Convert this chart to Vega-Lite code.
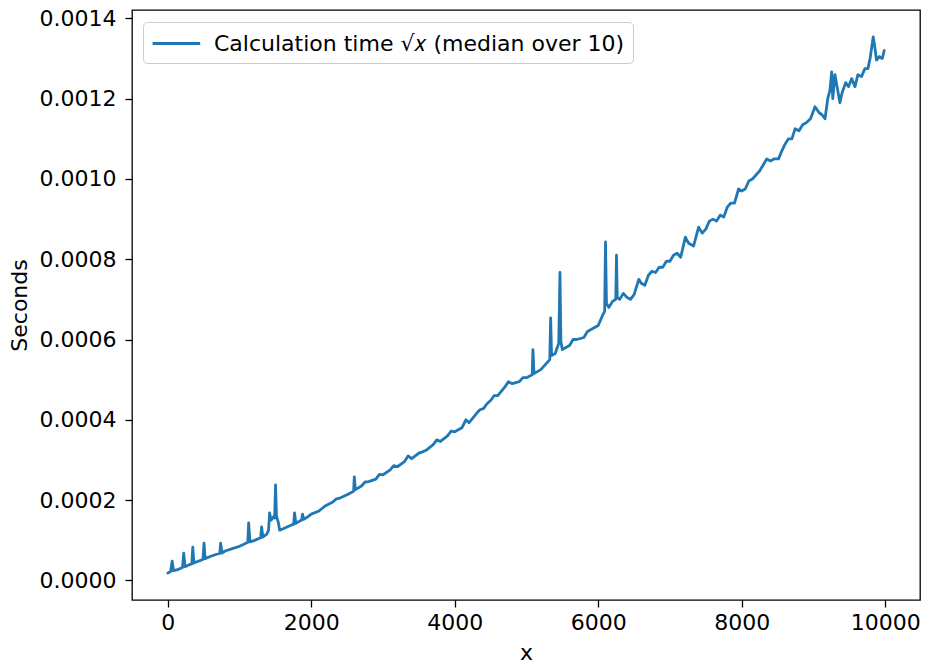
{
  "$schema": "https://vega.github.io/schema/vega-lite/v6.json",
  "width": 788,
  "height": 590,
  "autosize": {"type": "none"},
  "padding": {"left": 132, "top": 10, "right": 5, "bottom": 69},
  "background": "white",
  "config": {
    "view": {"stroke": "#000000", "strokeWidth": 1.3},
    "font": "DejaVu Sans",
    "axis": {
      "domain": false,
      "grid": false,
      "tickColor": "#000000",
      "tickSize": 7,
      "tickWidth": 1.3,
      "labelFont": "DejaVu Sans",
      "labelFontSize": 22,
      "labelColor": "#000000",
      "labelPadding": 6,
      "titleFont": "DejaVu Sans",
      "titleFontSize": 22,
      "titleFontWeight": "normal",
      "titleColor": "#000000"
    }
  },
  "data": {
    "values": [
      {"x": 0, "t": 0.0000180},
      {"x": 40, "t": 0.0000220},
      {"x": 60, "t": 0.0000480},
      {"x": 80, "t": 0.0000240},
      {"x": 150, "t": 0.0000275},
      {"x": 205, "t": 0.0000320},
      {"x": 222, "t": 0.0000675},
      {"x": 240, "t": 0.0000340},
      {"x": 300, "t": 0.0000390},
      {"x": 335, "t": 0.0000410},
      {"x": 348, "t": 0.0000825},
      {"x": 365, "t": 0.0000430},
      {"x": 430, "t": 0.0000480},
      {"x": 490, "t": 0.0000520},
      {"x": 505, "t": 0.0000925},
      {"x": 520, "t": 0.0000540},
      {"x": 600, "t": 0.0000600},
      {"x": 680, "t": 0.0000650},
      {"x": 725, "t": 0.0000670},
      {"x": 737, "t": 0.0000925},
      {"x": 755, "t": 0.0000680},
      {"x": 800, "t": 0.0000730},
      {"x": 900, "t": 0.0000790},
      {"x": 1000, "t": 0.0000850},
      {"x": 1060, "t": 0.0000900},
      {"x": 1115, "t": 0.0000950},
      {"x": 1127, "t": 0.0001430},
      {"x": 1145, "t": 0.0000960},
      {"x": 1200, "t": 0.0000990},
      {"x": 1295, "t": 0.0001060},
      {"x": 1308, "t": 0.0001330},
      {"x": 1325, "t": 0.0001080},
      {"x": 1380, "t": 0.0001150},
      {"x": 1405, "t": 0.0001250},
      {"x": 1419, "t": 0.0001680},
      {"x": 1440, "t": 0.0001500},
      {"x": 1470, "t": 0.0001580},
      {"x": 1490, "t": 0.0001550},
      {"x": 1502, "t": 0.0002380},
      {"x": 1515, "t": 0.0001600},
      {"x": 1540, "t": 0.0001450},
      {"x": 1560, "t": 0.0001250},
      {"x": 1600, "t": 0.0001280},
      {"x": 1700, "t": 0.0001360},
      {"x": 1755, "t": 0.0001400},
      {"x": 1767, "t": 0.0001680},
      {"x": 1785, "t": 0.0001420},
      {"x": 1840, "t": 0.0001480},
      {"x": 1865, "t": 0.0001500},
      {"x": 1878, "t": 0.0001650},
      {"x": 1895, "t": 0.0001520},
      {"x": 1950, "t": 0.0001580},
      {"x": 2000, "t": 0.0001650},
      {"x": 2100, "t": 0.0001720},
      {"x": 2150, "t": 0.0001790},
      {"x": 2200, "t": 0.0001860},
      {"x": 2300, "t": 0.0001950},
      {"x": 2350, "t": 0.0002030},
      {"x": 2400, "t": 0.0002050},
      {"x": 2500, "t": 0.0002130},
      {"x": 2590, "t": 0.0002220},
      {"x": 2600, "t": 0.0002580},
      {"x": 2615, "t": 0.0002260},
      {"x": 2700, "t": 0.0002350},
      {"x": 2750, "t": 0.0002450},
      {"x": 2800, "t": 0.0002460},
      {"x": 2900, "t": 0.0002520},
      {"x": 2950, "t": 0.0002640},
      {"x": 3000, "t": 0.0002630},
      {"x": 3100, "t": 0.0002750},
      {"x": 3150, "t": 0.0002860},
      {"x": 3200, "t": 0.0002830},
      {"x": 3300, "t": 0.0002960},
      {"x": 3350, "t": 0.0003100},
      {"x": 3400, "t": 0.0003030},
      {"x": 3500, "t": 0.0003170},
      {"x": 3550, "t": 0.0003200},
      {"x": 3600, "t": 0.0003240},
      {"x": 3700, "t": 0.0003380},
      {"x": 3750, "t": 0.0003500},
      {"x": 3800, "t": 0.0003460},
      {"x": 3900, "t": 0.0003600},
      {"x": 3950, "t": 0.0003720},
      {"x": 4000, "t": 0.0003700},
      {"x": 4100, "t": 0.0003800},
      {"x": 4155, "t": 0.0004000},
      {"x": 4200, "t": 0.0003930},
      {"x": 4300, "t": 0.0004150},
      {"x": 4350, "t": 0.0004250},
      {"x": 4400, "t": 0.0004280},
      {"x": 4450, "t": 0.0004400},
      {"x": 4500, "t": 0.0004480},
      {"x": 4550, "t": 0.0004600},
      {"x": 4600, "t": 0.0004600},
      {"x": 4700, "t": 0.0004820},
      {"x": 4750, "t": 0.0004950},
      {"x": 4800, "t": 0.0004900},
      {"x": 4900, "t": 0.0004950},
      {"x": 4950, "t": 0.0005050},
      {"x": 5000, "t": 0.0005050},
      {"x": 5080, "t": 0.0005120},
      {"x": 5090, "t": 0.0005750},
      {"x": 5105, "t": 0.0005150},
      {"x": 5200, "t": 0.0005250},
      {"x": 5250, "t": 0.0005350},
      {"x": 5300, "t": 0.0005450},
      {"x": 5325, "t": 0.0005500},
      {"x": 5337, "t": 0.0006540},
      {"x": 5350, "t": 0.0005600},
      {"x": 5400, "t": 0.0005650},
      {"x": 5450, "t": 0.0005900},
      {"x": 5467, "t": 0.0007670},
      {"x": 5480, "t": 0.0005950},
      {"x": 5500, "t": 0.0005750},
      {"x": 5550, "t": 0.0005800},
      {"x": 5600, "t": 0.0005850},
      {"x": 5650, "t": 0.0006000},
      {"x": 5700, "t": 0.0006000},
      {"x": 5800, "t": 0.0006050},
      {"x": 5850, "t": 0.0006200},
      {"x": 5900, "t": 0.0006250},
      {"x": 5950, "t": 0.0006300},
      {"x": 6000, "t": 0.0006350},
      {"x": 6060, "t": 0.0006600},
      {"x": 6090, "t": 0.0006700},
      {"x": 6102, "t": 0.0008430},
      {"x": 6115, "t": 0.0006900},
      {"x": 6150, "t": 0.0006800},
      {"x": 6200, "t": 0.0006950},
      {"x": 6245, "t": 0.0007000},
      {"x": 6255, "t": 0.0008100},
      {"x": 6265, "t": 0.0007050},
      {"x": 6300, "t": 0.0007000},
      {"x": 6350, "t": 0.0007150},
      {"x": 6400, "t": 0.0007050},
      {"x": 6450, "t": 0.0007000},
      {"x": 6500, "t": 0.0007120},
      {"x": 6566, "t": 0.0007500},
      {"x": 6600, "t": 0.0007400},
      {"x": 6650, "t": 0.0007350},
      {"x": 6700, "t": 0.0007600},
      {"x": 6750, "t": 0.0007700},
      {"x": 6800, "t": 0.0007670},
      {"x": 6850, "t": 0.0007800},
      {"x": 6900, "t": 0.0007800},
      {"x": 6950, "t": 0.0007950},
      {"x": 7000, "t": 0.0007950},
      {"x": 7050, "t": 0.0008100},
      {"x": 7100, "t": 0.0008150},
      {"x": 7150, "t": 0.0008050},
      {"x": 7215, "t": 0.0008550},
      {"x": 7260, "t": 0.0008400},
      {"x": 7330, "t": 0.0008330},
      {"x": 7400, "t": 0.0008800},
      {"x": 7450, "t": 0.0008650},
      {"x": 7500, "t": 0.0008750},
      {"x": 7550, "t": 0.0008950},
      {"x": 7600, "t": 0.0009000},
      {"x": 7650, "t": 0.0008950},
      {"x": 7700, "t": 0.0009100},
      {"x": 7750, "t": 0.0009050},
      {"x": 7800, "t": 0.0009300},
      {"x": 7850, "t": 0.0009400},
      {"x": 7900, "t": 0.0009400},
      {"x": 7957, "t": 0.0009750},
      {"x": 8000, "t": 0.0009700},
      {"x": 8050, "t": 0.0009750},
      {"x": 8100, "t": 0.0009950},
      {"x": 8150, "t": 0.0010000},
      {"x": 8200, "t": 0.0010100},
      {"x": 8250, "t": 0.0010200},
      {"x": 8300, "t": 0.0010350},
      {"x": 8350, "t": 0.0010500},
      {"x": 8400, "t": 0.0010450},
      {"x": 8450, "t": 0.0010500},
      {"x": 8513, "t": 0.0010500},
      {"x": 8560, "t": 0.0010700},
      {"x": 8600, "t": 0.0010850},
      {"x": 8652, "t": 0.0011000},
      {"x": 8700, "t": 0.0011000},
      {"x": 8745, "t": 0.0011250},
      {"x": 8800, "t": 0.0011200},
      {"x": 8850, "t": 0.0011350},
      {"x": 8900, "t": 0.0011400},
      {"x": 8960, "t": 0.0011500},
      {"x": 9023, "t": 0.0011800},
      {"x": 9080, "t": 0.0011650},
      {"x": 9120, "t": 0.0011600},
      {"x": 9162, "t": 0.0011500},
      {"x": 9200, "t": 0.0012000},
      {"x": 9230, "t": 0.0012200},
      {"x": 9255, "t": 0.0012670},
      {"x": 9270, "t": 0.0012000},
      {"x": 9300, "t": 0.0012600},
      {"x": 9330, "t": 0.0012300},
      {"x": 9370, "t": 0.0011900},
      {"x": 9400, "t": 0.0012150},
      {"x": 9450, "t": 0.0012400},
      {"x": 9490, "t": 0.0012300},
      {"x": 9533, "t": 0.0012500},
      {"x": 9580, "t": 0.0012300},
      {"x": 9620, "t": 0.0012600},
      {"x": 9670, "t": 0.0012550},
      {"x": 9718, "t": 0.0012750},
      {"x": 9760, "t": 0.0012750},
      {"x": 9790, "t": 0.0013000},
      {"x": 9834, "t": 0.0013540},
      {"x": 9855, "t": 0.0013300},
      {"x": 9880, "t": 0.0012960},
      {"x": 9920, "t": 0.0013050},
      {"x": 9960, "t": 0.0013000},
      {"x": 9987, "t": 0.0013200}
    ]
  },
  "mark": {"type": "line", "strokeWidth": 2.8, "interpolate": "linear", "strokeJoin": "round", "strokeCap": "round"},
  "encoding": {
    "x": {
      "field": "x",
      "type": "quantitative",
      "scale": {"domain": [-499, 10486], "nice": false, "zero": false},
      "axis": {"values": [0, 2000, 4000, 6000, 8000, 10000], "format": "d", "title": "x", "titlePadding": 9, "labelPadding": 5}
    },
    "y": {
      "field": "t",
      "type": "quantitative",
      "scale": {"domain": [-0.000049, 0.001421], "nice": false, "zero": false},
      "axis": {"values": [0, 0.0002, 0.0004, 0.0006, 0.0008, 0.001, 0.0012, 0.0014], "format": ".4f", "title": "Seconds", "titlePadding": 8, "labelPadding": 9}
    },
    "color": {
      "datum": "Calculation time √𝑥 (median over 10)",
      "type": "nominal",
      "scale": {"range": ["#1f77b4"]},
      "legend": {
        "title": null,
        "orient": "none",
        "legendX": 11,
        "legendY": 12,
        "direction": "vertical",
        "strokeColor": "#cccccc",
        "fillColor": "white",
        "cornerRadius": 4,
        "padding": 8,
        "symbolType": "M-1,0H3",
        "symbolSize": 566,
        "symbolStrokeWidth": 2.8,
        "labelFont": "DejaVu Sans",
        "labelFontSize": 22,
        "labelColor": "#000000",
        "labelOffset": 36,
        "labelLimit": 700
      }
    }
  }
}
